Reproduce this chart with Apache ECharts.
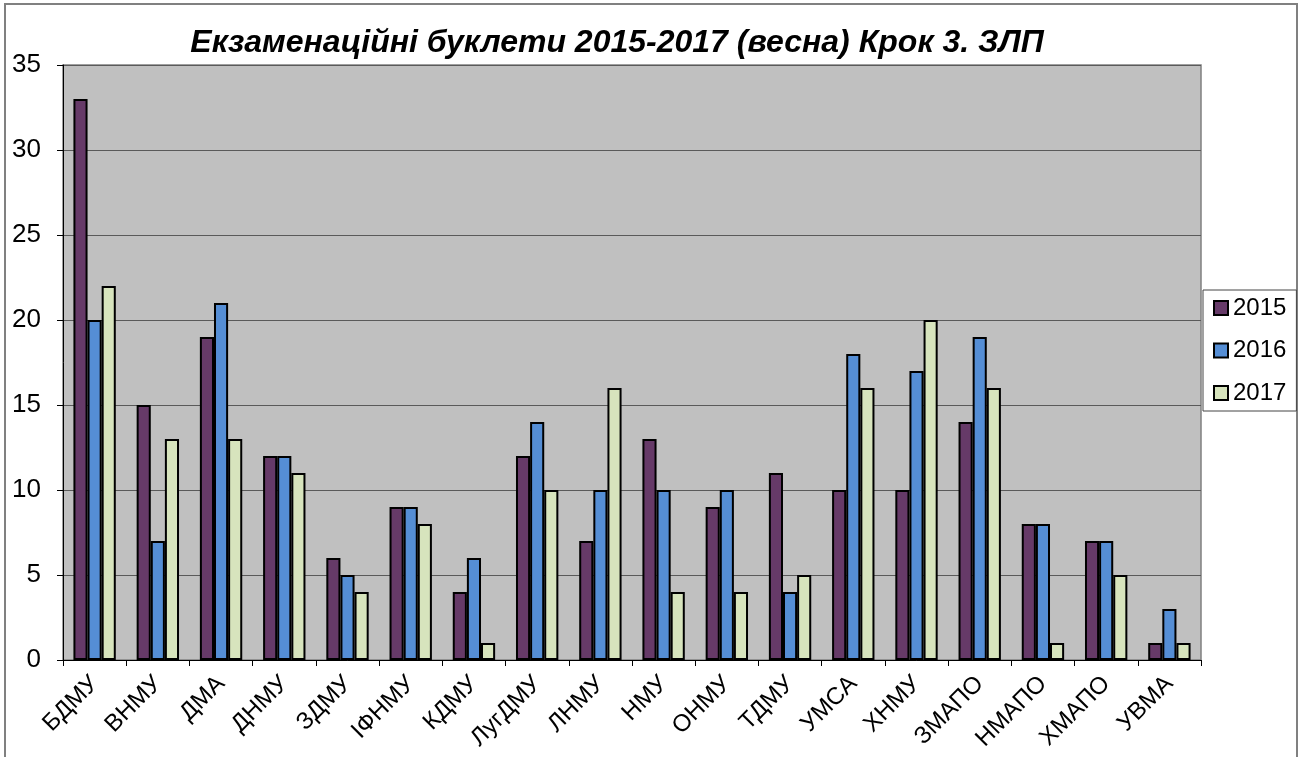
<!DOCTYPE html>
<html>
<head>
<meta charset="utf-8">
<script src="https://cdn.jsdelivr.net/npm/echarts@6/dist/echarts.min.js"></script>
<style>
  html, body { margin: 0; padding: 0; background: #fff; }
  #chart { width: 1308px; height: 757px; }
</style>
</head>
<body>
<div id="chart"></div>
<script>
const categories = ['БДМУ', 'ВНМУ', 'ДМА', 'ДНМУ', 'ЗДМУ', 'ІФНМУ', 'КДМУ', 'ЛугДМУ', 'ЛНМУ',
  'НМУ', 'ОНМУ', 'ТДМУ', 'УМСА', 'ХНМУ', 'ЗМАПО', 'НМАПО', 'ХМАПО', 'УВМА'];
const y2015 = [33, 15, 19, 12, 6, 9, 4, 12, 7, 13, 9, 11, 10, 10, 14, 8, 7, 1];
const y2016 = [20, 7, 21, 12, 5, 9, 6, 14, 10, 10, 10, 4, 18, 17, 19, 8, 7, 3];
const y2017 = [22, 13, 13, 11, 4, 8, 1, 10, 16, 4, 4, 5, 16, 20, 16, 1, 5, 1];

const font = '"Liberation Sans", Arial, sans-serif';

const chart = echarts.init(document.getElementById('chart'));

function bar(name, data, color) {
  return {
    name: name,
    type: 'bar',
    data: data,
    barGap: '0%',
    barCategoryGap: '33%',
    itemStyle: { color: color, borderColor: '#000', borderWidth: 2 }
  };
}

chart.setOption({
  animation: false,
  title: {
    text: 'Екзаменаційні буклети 2015-2017 (весна) Крок 3. ЗЛП',
    left: 612,
    top: 22,
    textAlign: 'center',
    textStyle: { fontFamily: font, fontSize: 32, fontWeight: 'bold', fontStyle: 'italic', color: '#000' }
  },
  graphic: [{
    type: 'rect',
    shape: { x: 5, y: 4, width: 1292, height: 780 },
    style: { fill: 'none', stroke: '#808080', lineWidth: 2 },
    silent: true
  }],
  legend: {
    orient: 'vertical',
    left: 1203,
    top: 290,
    padding: [6, 10, 6, 10],
    itemGap: 18.5,
    itemWidth: 14,
    itemHeight: 14,
    icon: 'rect',
    backgroundColor: '#fff',
    borderColor: '#444',
    borderWidth: 1,
    textStyle: { fontFamily: font, fontSize: 24, color: '#000', lineHeight: 24 }
  },
  grid: {
    left: 63,
    right: 107,
    top: 65,
    bottom: 97,
    show: true,
    backgroundColor: '#C0C0C0',
    borderColor: '#808080',
    borderWidth: 1.5
  },
  xAxis: {
    type: 'category',
    data: categories,
    axisLine: { lineStyle: { color: '#000', width: 1 } },
    axisTick: { show: true, length: 6, lineStyle: { color: '#000' } },
    axisLabel: { rotate: 45, fontFamily: font, fontSize: 24, color: '#000', margin: 20, interval: 0 }
  },
  yAxis: {
    type: 'value',
    min: 0,
    max: 35,
    interval: 5,
    axisLine: { show: true, lineStyle: { color: '#000', width: 1 } },
    axisTick: { show: true, length: 6, lineStyle: { color: '#000' } },
    axisLabel: { fontFamily: font, fontSize: 26, color: '#000', margin: 22 },
    splitLine: { lineStyle: { color: '#5a5a5a', width: 1.2 } }
  },
  series: [
    bar('2015', y2015, '#663A68'),
    bar('2016', y2016, '#558ED5'),
    bar('2017', y2017, '#D7E4BD')
  ]
});
</script>
</body>
</html>
